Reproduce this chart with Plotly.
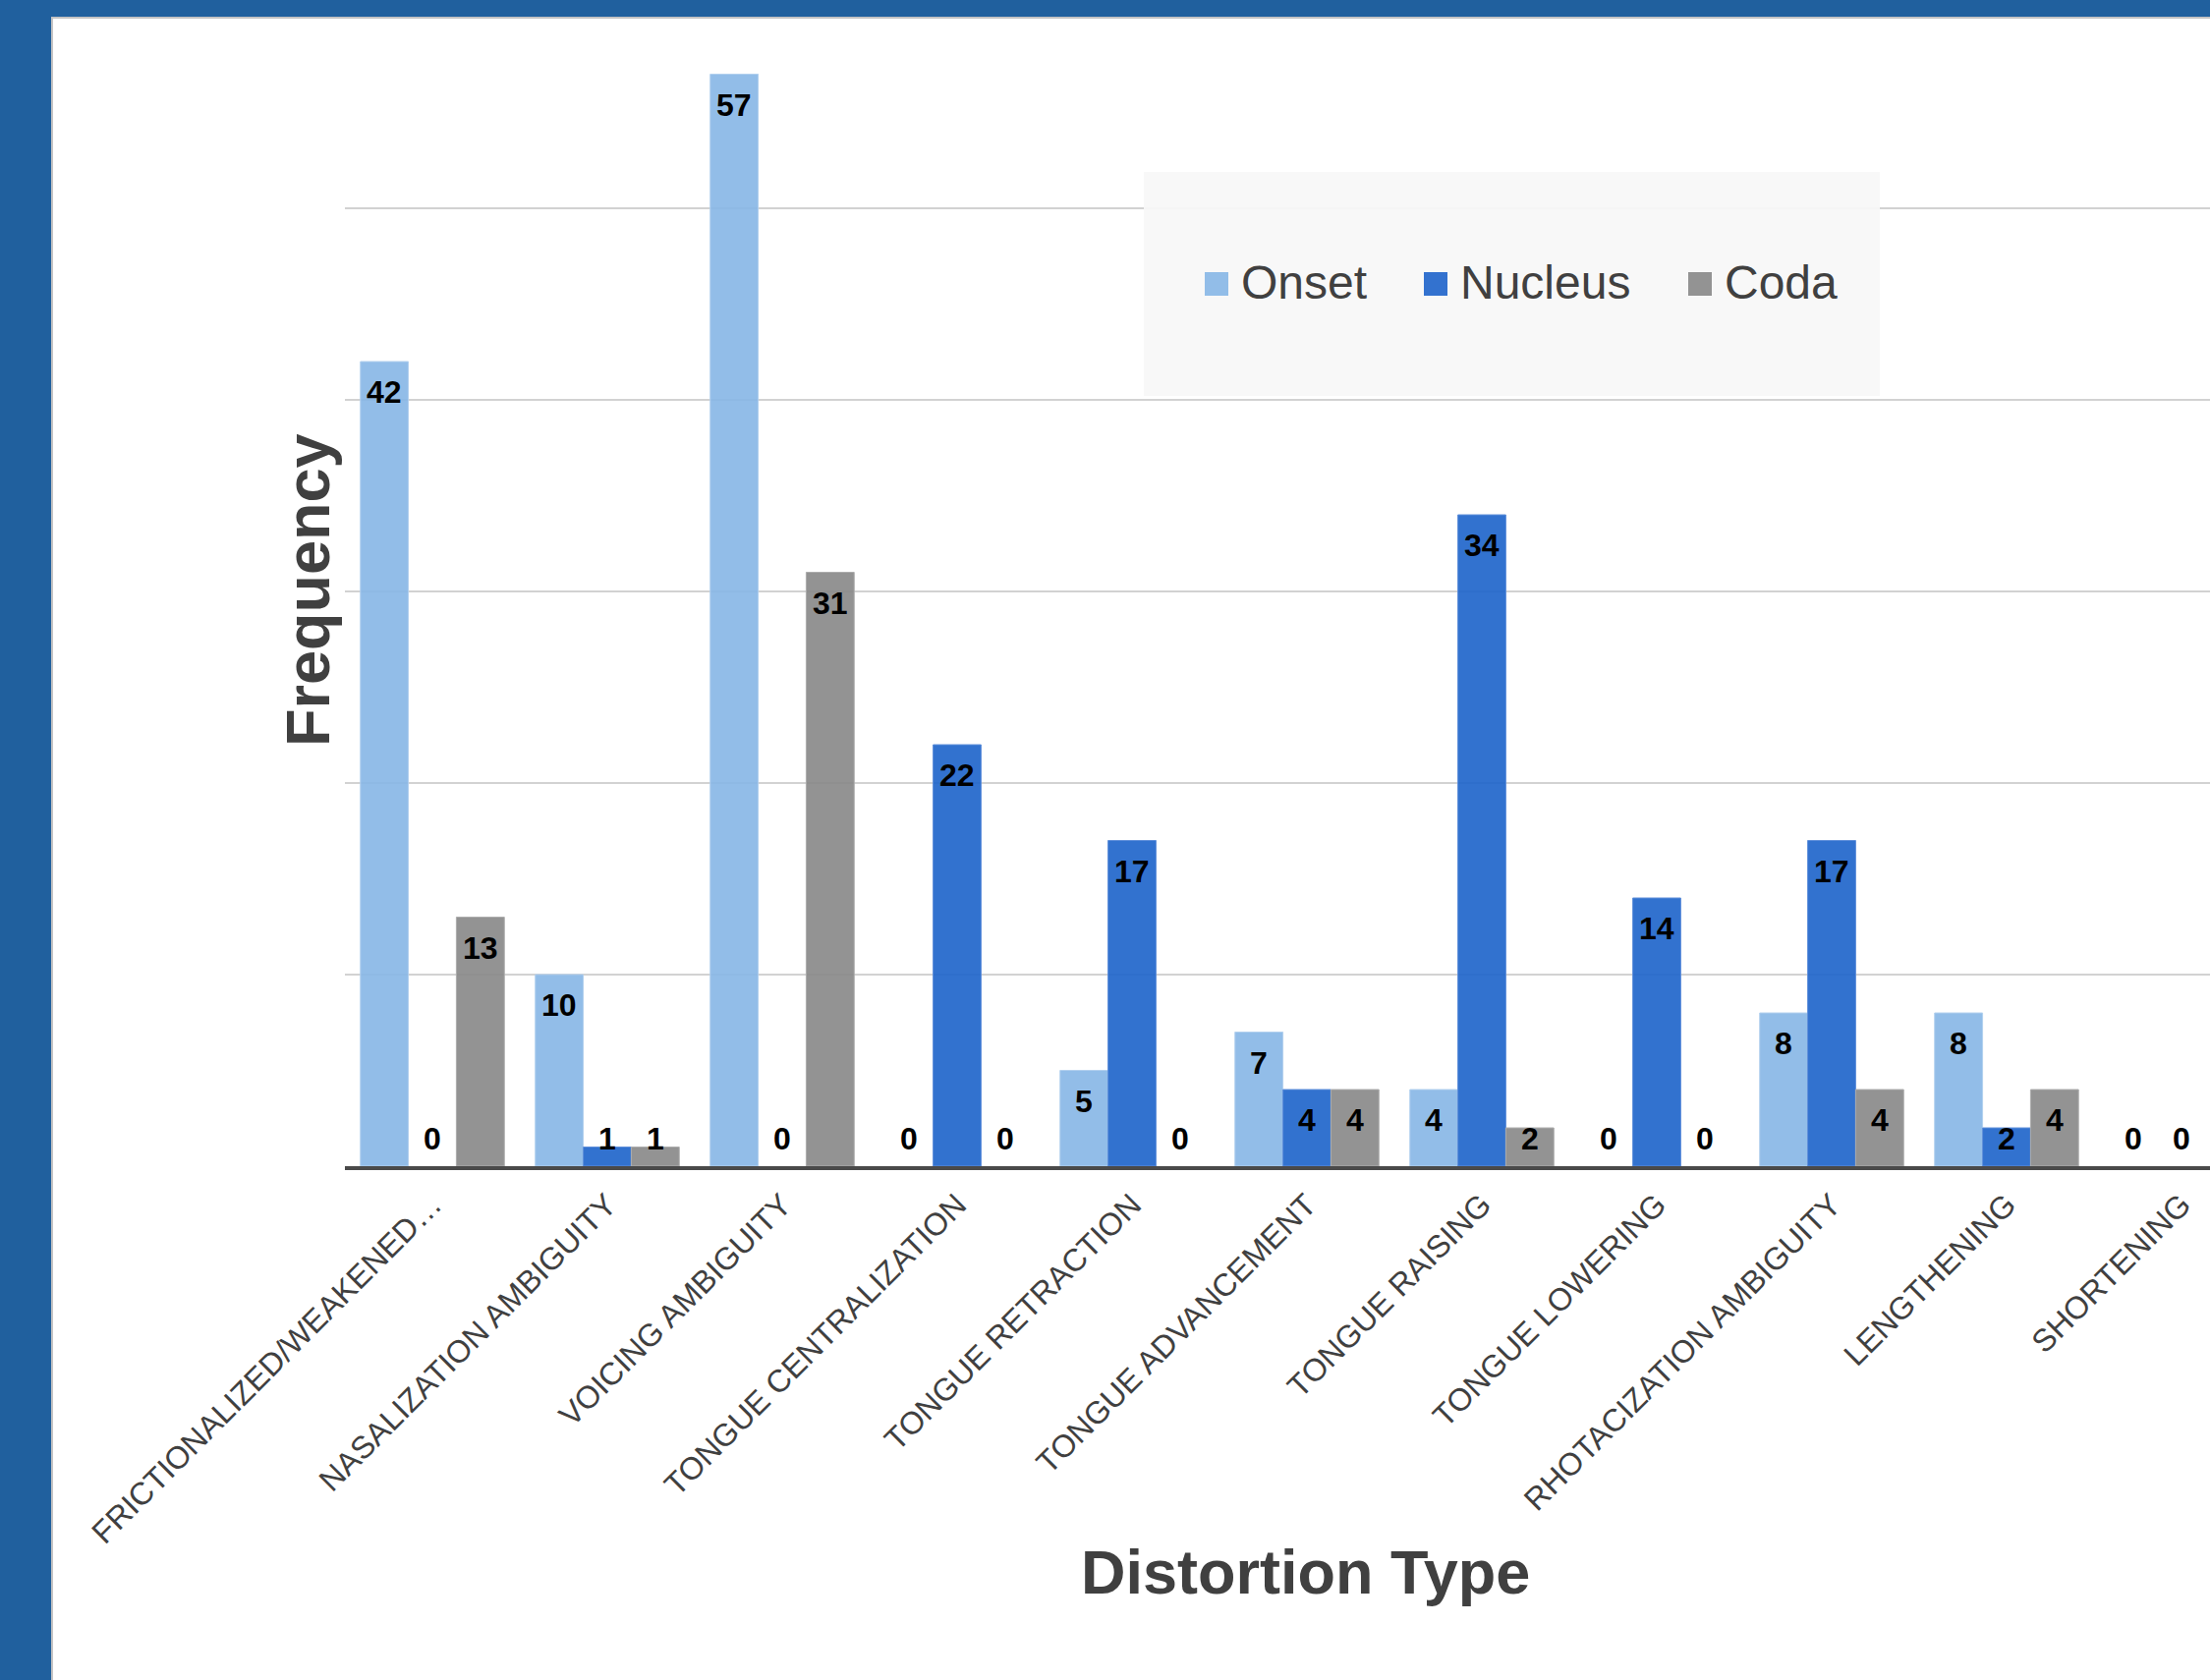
import plotly.graph_objects as go

# ---- data ----
categories = [
    "FRICTIONALIZED/WEAKENED…",
    "NASALIZATION AMBIGUITY",
    "VOICING AMBIGUITY",
    "TONGUE CENTRALIZATION",
    "TONGUE RETRACTION",
    "TONGUE ADVANCEMENT",
    "TONGUE RAISING",
    "TONGUE LOWERING",
    "RHOTACIZATION AMBIGUITY",
    "LENGTHENING",
    "SHORTENING",
]
onset = [42, 10, 57, 0, 5, 7, 4, 0, 8, 8, 0]
nucleus = [0, 1, 0, 22, 17, 4, 34, 14, 17, 2, 0]
coda = [13, 1, 31, 0, 0, 4, 2, 0, 4, 4, 0]
series_names = ["Onset", "Nucleus", "Coda"]
grid_values = [10, 20, 30, 40, 50]

# ---- styling ----
series_values = [onset, nucleus, coda]
fill_colors = ["rgba(134,182,229,0.9)", "rgba(28,99,202,0.9)", "rgba(135,135,135,0.9)"]
edge_colors = ["#B2D0EE", "#5F8FDA", "#ADADAD"]
swatch_colors = ["#92BDE8", "#3372CF", "#939393"]
FONT = "Liberation Sans, Arial, sans-serif"
TEXT_DARK = "#404040"

W, H = 2249, 1710
M_L, M_R, M_T, M_B = 351, 0, 17, 523
PLOT_W = W - M_L - M_R
PLOT_H = H - M_T - M_B
Y_MAX = 60
X_RANGE = [-0.5, 10.163]
BARGAP = 0.177

n_series = len(series_values)
cat_px = PLOT_W / (X_RANGE[1] - X_RANGE[0])
bar_frac = (1 - BARGAP) / n_series
bar_px = cat_px * bar_frac
unit_px = PLOT_H / Y_MAX


def px_x(p):
    return (p - M_L) / PLOT_W


def px_y(p):
    return (H - M_B - p) / PLOT_H


fig = go.Figure()
for name, vals, fc, ec in zip(series_names, series_values, fill_colors, edge_colors):
    fig.add_trace(go.Bar(
        name=name, x=categories, y=vals,
        marker=dict(color=fc, line=dict(color=ec, width=[1 if v > 0 else 0 for v in vals])),
        showlegend=False, hoverinfo="x+y+name",
    ))

# value labels: inside the top of each bar, kept just above the baseline for short bars
label_offset = 31
label_floor = 28
annotations = []
for s, vals in enumerate(series_values):
    rel = s - (n_series - 1) / 2
    for i, (cat, v) in enumerate(zip(categories, vals)):
        # labels of bars that fall past the visible end of the axis are not drawn
        if i + rel * bar_frac > X_RANGE[1]:
            continue
        if v * unit_px - label_offset >= label_floor:
            y, ys = v, -label_offset
        else:
            y, ys = 0, label_floor
        annotations.append(dict(
            x=cat, y=y, xref="x", yref="y", text=str(v), showarrow=False,
            xshift=rel * bar_px, yshift=ys, xanchor="center", yanchor="middle",
            font=dict(family=FONT, size=32, color="#000000", weight="bold"),
        ))

# axis titles
annotations.append(dict(
    x=px_x(313), y=px_y(601), xref="paper", yref="paper", text="Frequency",
    textangle=-90, showarrow=False, xanchor="center", yanchor="middle",
    font=dict(family=FONT, size=63, color=TEXT_DARK, weight="bold"),
))
annotations.append(dict(
    x=px_x(1328), y=px_y(1600), xref="paper", yref="paper", text="Distortion Type",
    showarrow=False, xanchor="center", yanchor="middle",
    font=dict(family=FONT, size=63, color=TEXT_DARK, weight="bold"),
))

shapes = []
# legend box
legend_box = (1164, 175, 1913, 403)
shapes.append(dict(
    type="rect", xref="paper", yref="paper",
    x0=px_x(legend_box[0]), x1=px_x(legend_box[2]),
    y0=px_y(legend_box[3]), y1=px_y(legend_box[1]),
    fillcolor="rgba(247,247,247,0.92)", line=dict(width=0), layer="above",
))
swatch_left = [1226, 1449, 1718]
swatch_size = 24
legend_mid = 289
for name, color, sx in zip(series_names, swatch_colors, swatch_left):
    shapes.append(dict(
        type="rect", xref="paper", yref="paper",
        x0=px_x(sx), x1=px_x(sx + swatch_size),
        y0=px_y(legend_mid + swatch_size / 2), y1=px_y(legend_mid - swatch_size / 2),
        fillcolor=color, line=dict(width=0), layer="above",
    ))
    annotations.append(dict(
        x=px_x(sx + swatch_size + 11), y=px_y(legend_mid - 1), xref="paper", yref="paper",
        text=name, showarrow=False, xanchor="left", yanchor="middle",
        font=dict(family=FONT, size=48, color=TEXT_DARK),
    ))

# slide frame: blue border on the left and top with a soft grey edge on the panel
frame_blue = "#20609E"
shapes.append(dict(type="rect", xref="paper", yref="paper",
                   x0=px_x(-5), x1=px_x(52), y0=px_y(H + 5), y1=px_y(-5),
                   fillcolor=frame_blue, line=dict(width=0), layer="above"))
shapes.append(dict(type="rect", xref="paper", yref="paper",
                   x0=px_x(-5), x1=px_x(W + 5), y0=px_y(17), y1=px_y(-5),
                   fillcolor=frame_blue, line=dict(width=0), layer="above"))
shapes.append(dict(type="line", xref="paper", yref="paper",
                   x0=px_x(53), x1=px_x(53), y0=px_y(H + 5), y1=px_y(17),
                   line=dict(color="#C4C4C4", width=2), layer="above"))
shapes.append(dict(type="line", xref="paper", yref="paper",
                   x0=px_x(52), x1=px_x(W + 5), y0=px_y(18), y1=px_y(18),
                   line=dict(color="#C4C4C4", width=2), layer="above"))

fig.update_layout(
    width=W, height=H,
    margin=dict(l=M_L, r=M_R, t=M_T, b=M_B, pad=0),
    paper_bgcolor="white", plot_bgcolor="white",
    barmode="group", bargap=BARGAP, bargroupgap=0,
    showlegend=False,
    annotations=annotations, shapes=shapes,
    font=dict(family=FONT, color=TEXT_DARK),
)
fig.update_xaxes(
    type="category", range=X_RANGE,
    showline=True, linecolor="#4A4A4A", linewidth=3.5,
    showgrid=False, ticks="", tickangle=-45,
    tickfont=dict(family=FONT, size=32, color=TEXT_DARK),
    ticklabelstandoff=4,
)
fig.update_yaxes(
    range=[0, Y_MAX], tickvals=grid_values, showticklabels=False,
    showgrid=True, gridcolor="#D2D2D2", gridwidth=1.5,
    zeroline=False, showline=False, ticks="",
)

fig.write_html("out.html")
